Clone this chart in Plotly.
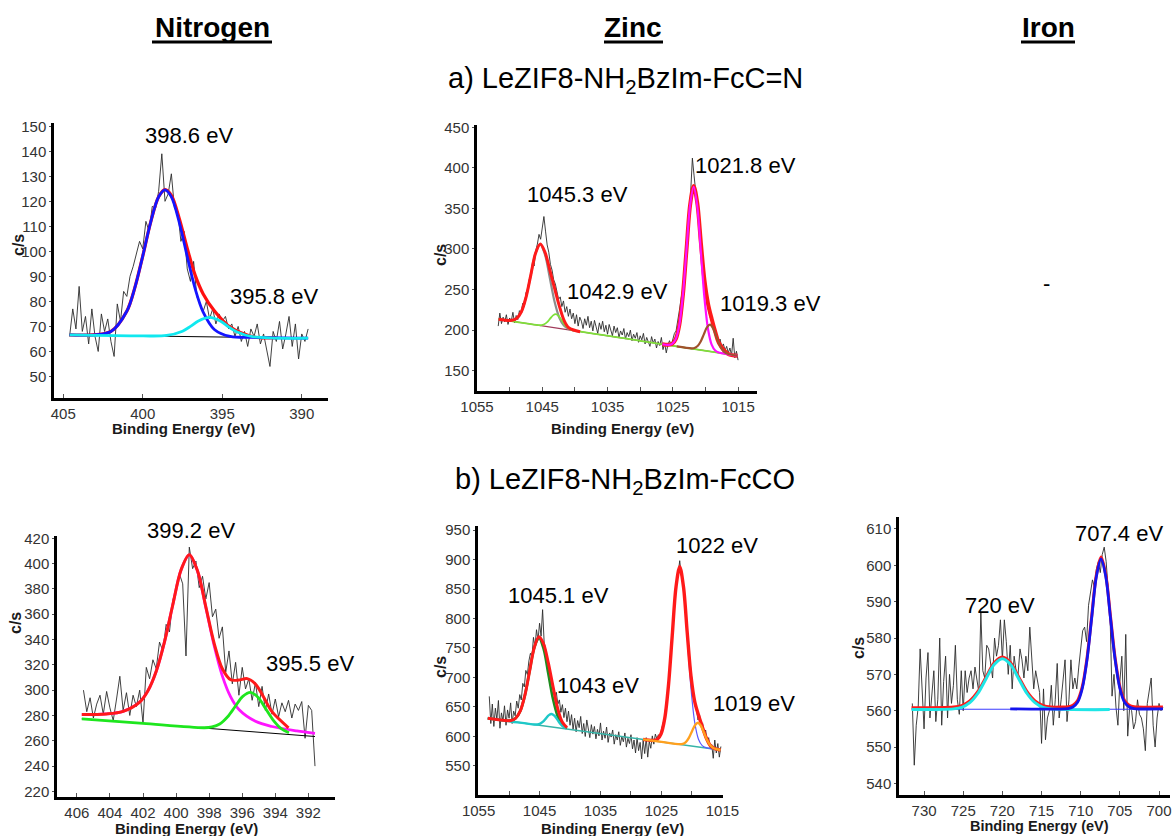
import numpy as np
import plotly.graph_objects as go

W, H = 1173, 836
FONT = "Liberation Sans, Arial, sans-serif"

# ---------------- a) N 1s ----------------
n_a_start, n_a_step = 404.6, 0.2
n_a_counts = [66, 77, 69, 86, 68, 74, 63, 77, 66, 60, 75, 68, 73, 64, 58, 79, 72, 84, 82, 90,
              94, 99, 104, 101, 112, 108, 118, 117, 124, 139, 120, 123, 131, 117, 116, 104, 108, 93, 88, 96,
              82, 79, 76, 80, 73, 77, 71, 75, 72, 74, 69, 71, 66, 70, 64, 68, 62, 69, 66, 71,
              63, 67, 60, 54, 68, 64, 72, 61, 67, 74, 62, 71, 57, 67, 64, 69]
n_a_base_x = [404.6, 389.6]
n_a_base_y = [66.6, 65.3]
n_a_p1_x = [404.6, 402.0, 401.0, 400.5, 400.0, 399.5, 399.0, 398.6, 398.2, 397.7, 397.2, 396.7, 396.2, 395.5, 394.5, 393.0, 389.6]
n_a_p1_y = [66.6, 68.0, 76.1, 85.4, 98.1, 111.7, 121.8, 124.6, 121.8, 111.5, 97.9, 85.0, 75.7, 68.8, 66.0, 65.6, 65.3]
n_a_p2_x = [404.6, 400.0, 398.5, 397.5, 397.0, 396.5, 395.8, 395.1, 394.6, 394.1, 393.1, 389.6]
n_a_p2_y = [66.6, 66.2, 66.4, 68.1, 70.0, 72.2, 73.6, 72.1, 69.8, 67.9, 65.9, 65.3]
n_a_env_x = [404.6, 402.0, 401.0, 400.5, 400.0, 399.5, 399.0, 398.6, 398.2, 397.7, 397.2, 396.7, 396.2, 395.5, 394.5, 393.0, 391.6]
n_a_env_y = [66.6, 68.0, 76.1, 85.4, 98.1, 111.7, 121.8, 124.7, 122.4, 113.1, 101.2, 90.4, 83.0, 76.3, 69.7, 65.8, 65.5]

# ---------------- a) Zn 2p ----------------
zn_a_start, zn_a_step = 1051.75, 0.25
zn_a_counts = [205, 221, 208, 216, 210, 219, 207, 215, 211, 222, 209, 218, 213, 224, 221, 233,
               229, 246, 250, 262, 268, 283, 279, 298, 306, 318, 312, 328, 340, 322, 305, 296,
               281, 274, 262, 257, 246, 238, 241, 229, 236, 222, 229, 217, 226, 214, 221, 208,
               219, 205, 216, 211, 202, 214, 206, 217, 203, 211, 199, 212, 204, 196, 209, 201,
               211, 198, 206, 195, 207, 200, 193, 205, 197, 203, 191, 199, 194, 202, 189, 197,
               192, 200, 187, 195, 190, 197, 185, 193, 188, 196, 183, 191, 186, 180, 192, 184,
               189, 178, 186, 181, 191, 176, 184, 172, 182, 187, 181, 190, 196, 199, 215, 224,
               238, 250, 271, 289, 316, 338, 372, 412, 391, 372, 351, 332, 306, 284, 262, 246,
               232, 223, 215, 211, 203, 197, 192, 186, 189, 178, 183, 175, 180, 172, 178, 169,
               190, 166, 174, 163]
zn_a_base_x = [1051.7, 1015.1]
zn_a_base_y = [213.5, 168.5]
zn_a_p1_x = [1051.7, 1049.65, 1048.93, 1048.2, 1047.48, 1046.75, 1046.03, 1045.3, 1044.58, 1043.85, 1043.13, 1042.4, 1041.68, 1040.95, 1039.2]
zn_a_p1_y = [213.5, 212.1, 214.5, 222.7, 240.8, 268.1, 294.8, 305.6, 293.0, 264.5, 235.5, 215.6, 205.6, 201.4, 198.1]
zn_a_p2_x = [1051.7, 1048.6, 1045.6, 1045.15, 1044.7, 1044.25, 1043.8, 1043.35, 1042.9, 1042.45, 1042.0, 1041.55, 1041.1, 1040.65, 1040.2, 1030.0, 1015.1]
zn_a_p2_y = [213.5, 209.7, 206.2, 206.1, 207.2, 209.8, 214.1, 218.2, 219.7, 217.1, 211.9, 206.5, 202.8, 200.6, 199.6, 186.8, 168.5]
zn_a_env1_x = [1051.7, 1049.65, 1048.93, 1048.2, 1047.48, 1046.75, 1046.03, 1045.3, 1044.58, 1043.85, 1043.13, 1042.4, 1041.68, 1040.95, 1039.2]
zn_a_env1_y = [213.5, 212.1, 214.5, 222.7, 240.8, 268.1, 294.8, 306.1, 296.0, 274.2, 252.0, 230.2, 212.4, 203.0, 198.1]
zn_a_p3_x = [1026.6, 1025.65, 1025.1, 1024.55, 1024.0, 1023.45, 1022.9, 1022.35, 1021.8, 1021.25, 1020.7, 1020.15, 1019.6, 1019.05, 1018.5, 1017.95, 1016.5, 1015.1]
zn_a_p3_y = [182.6, 181.9, 183.0, 188.9, 206.5, 243.7, 299.4, 353.9, 376.7, 352.6, 296.7, 239.6, 201.1, 182.2, 174.9, 172.4, 170.2, 168.5]
zn_a_p4_x = [1024.4, 1022.15, 1021.675, 1021.2, 1020.725, 1020.25, 1019.775, 1019.3, 1018.825, 1018.35, 1017.875, 1017.4, 1016.925, 1016.45, 1015.1]
zn_a_p4_y = [179.9, 177.6, 178.0, 180.5, 186.1, 194.8, 203.3, 206.7, 202.2, 192.5, 182.6, 175.8, 172.1, 170.6, 168.5]
zn_a_env2_x = [1026.6, 1025.65, 1025.1, 1024.55, 1024.0, 1023.45, 1022.9, 1022.35, 1021.8, 1021.25, 1020.7, 1020.15, 1019.6, 1019.05, 1018.5, 1017.95, 1016.5, 1015.1]
zn_a_env2_y = [182.6, 181.9, 183.0, 188.9, 206.5, 243.7, 299.4, 354.1, 377.7, 356.6, 307.8, 261.7, 232.5, 214.1, 198.0, 184.4, 170.6, 168.5]

# ---------------- b) N 1s ----------------
n_b_start, n_b_step = 405.6, 0.2
n_b_counts = [300, 283, 294, 278, 289, 296, 281, 299, 286, 276, 293, 311, 284, 298, 280, 296, 287, 300, 274, 318,
              309, 324, 317, 338, 331, 352, 346, 371, 379, 392, 384, 327, 413, 396, 402, 381, 390, 372, 385, 358,
              364, 341, 350, 314, 331, 305, 322, 296, 318, 301, 309, 292, 306, 287, 303, 284, 297, 281, 293, 279,
              290, 283, 292, 278, 289, 284, 291, 262, 288, 284, 240]
n_b_base_x = [405.7, 391.6]
n_b_base_y = [277.4, 263.4]
n_b_p1_x = [405.7, 404.2, 403.2, 402.2, 401.7, 401.2, 400.7, 400.2, 399.7, 399.2, 398.7, 398.2, 397.7, 397.2, 396.7, 396.2, 395.2, 394.2, 392.7, 391.6]
n_b_p1_y = [280.7, 281.2, 283.3, 290.6, 299.6, 315.0, 338.2, 367.3, 395.0, 406.9, 394.0, 365.3, 335.3, 311.1, 294.7, 284.7, 275.4, 271.3, 267.8, 265.8]
n_b_p2_x = [405.7, 402.0, 398.29, 397.825, 397.36, 396.895, 396.43, 395.965, 395.5, 395.035, 394.57, 394.105, 393.64, 393.175]
n_b_p2_y = [277.4, 273.7, 270.3, 271.0, 273.3, 278.8, 287.0, 295.1, 298.3, 294.2, 285.1, 276.0, 269.6, 266.4]
n_b_env_x = [405.7, 404.2, 403.2, 402.2, 401.7, 401.2, 400.7, 400.2, 399.7, 399.2, 398.7, 398.2, 397.7, 397.2, 396.7, 396.2, 395.7, 395.2, 394.7, 394.2, 393.2]
n_b_env_y = [280.7, 281.2, 283.3, 290.6, 299.6, 315.0, 338.2, 367.3, 395.0, 407.0, 394.1, 365.8, 337.2, 316.9, 308.2, 308.0, 309.1, 304.8, 294.4, 283.0, 270.3]

# ---------------- b) Zn 2p ----------------
zn_b_start, zn_b_step = 1053.25, 0.25
zn_b_counts = [668, 622,
               655, 617, 648, 629, 661, 614, 640, 626, 652, 619, 645, 631, 657, 622, 643, 635,
               660, 648, 671, 662, 690, 684, 712, 705, 728, 741, 735, 768, 752, 781, 763, 792,
               770, 815, 760, 748, 729, 715, 703, 690, 681, 668, 675, 655, 662, 641, 654, 632,
               648, 625, 643, 619, 637, 612, 631, 608, 627, 615, 634, 605, 622, 600, 628, 611,
               598, 620, 604, 617, 596, 612, 601, 623, 594, 609, 597, 616, 590, 606, 599, 611,
               587, 603, 594, 608, 585, 600, 591, 606, 582, 597, 588, 603, 579, 594, 572, 598,
               576, 590, 562, 594, 571, 598, 565, 592, 580, 601, 587, 604, 596, 603, 598, 612,
               621, 632, 655, 672, 703, 745, 772, 808, 838, 861, 882, 898, 873, 865, 832, 808,
               771, 745, 712, 688, 671, 652, 645, 628, 637, 619, 623, 604, 611, 592, 598, 579,
               586, 563, 594, 572,
               588, 565, 583]
zn_b_base_x = [1053.5, 1015.3]
zn_b_base_y = [630.9, 577.1]
zn_b_p1_x = [1053.5, 1049.69, 1048.925, 1048.16, 1047.395, 1046.63, 1045.865, 1045.1, 1044.335, 1043.57, 1042.805, 1042.04, 1041.275, 1040.51]
zn_b_p1_y = [630.9, 627.1, 630.9, 643.4, 670.4, 711.0, 750.7, 767.1, 748.6, 706.7, 663.9, 634.8, 620.2, 614.2]
zn_b_p2_x = [1053.5, 1049.7, 1045.85, 1045.375, 1044.9, 1044.425, 1043.95, 1043.475, 1043.0, 1042.525, 1042.05, 1041.575, 1041.1, 1040.625]
zn_b_p2_y = [630.9, 625.5, 620.3, 620.4, 621.8, 625.2, 630.7, 636.2, 638.1, 634.8, 628.1, 621.2, 616.4, 613.8]
zn_b_env1_x = [1053.5, 1049.69, 1048.925, 1048.16, 1047.395, 1046.63, 1045.865, 1045.1, 1044.335, 1043.57, 1042.805, 1042.04, 1041.275, 1040.51]
zn_b_env1_y = [630.9, 627.1, 630.9, 643.4, 670.4, 711.0, 750.9, 769.0, 756.8, 725.1, 685.4, 648.0, 624.4, 614.9]
zn_b_p3_x = [1028.0, 1026.305, 1025.69, 1025.075, 1024.46, 1023.845, 1023.23, 1022.615, 1022.0, 1021.385, 1020.77, 1020.155, 1019.54, 1018.925, 1018.31, 1017.695, 1015.3]
zn_b_p3_y = [595.0, 593.3, 595.0, 604.1, 630.7, 686.8, 770.9, 853.0, 887.5, 851.3, 767.4, 681.6, 623.8, 595.4, 584.6, 581.2, 577.1]
zn_b_p4_x = [1028.0, 1025.0, 1022.0, 1021.5, 1021.0, 1020.5, 1020.0, 1019.5, 1019.0, 1018.5, 1018.0, 1017.5, 1017.0, 1016.5, 1016.0, 1015.3]
zn_b_p4_y = [595.0, 590.8, 587.0, 587.6, 590.6, 597.7, 608.6, 619.2, 623.3, 617.8, 605.8, 593.5, 585.0, 580.6, 578.6, 577.1]
zn_b_env2_x = [1028.0, 1026.305, 1025.69, 1025.075, 1024.46, 1023.845, 1023.23, 1022.615, 1022.0, 1021.385, 1020.77, 1020.155, 1019.54, 1018.925, 1018.31, 1017.695, 1017.0, 1016.3, 1015.3]
zn_b_env2_y = [595.0, 593.3, 595.0, 604.1, 630.7, 686.8, 770.9, 853.1, 888.0, 853.7, 776.0, 702.6, 659.2, 636.3, 616.9, 598.7, 585.0, 579.6, 577.1]

# ---------------- b) Fe 2p ----------------
fe_b_start, fe_b_step = 731.5, 0.25
fe_b_counts = [562, 545,
               556, 561, 577, 566, 555, 569, 576, 558, 566, 571, 557, 563, 580, 556, 568, 575,
               558, 570, 562, 567, 578, 563, 559, 571, 560, 571, 565, 569, 571, 566, 572, 568,
               565, 587, 571, 569, 578, 577, 573, 569, 580, 575, 578, 585, 574, 585, 579, 570,
               578, 566, 575, 571, 570, 577, 574, 569, 575, 571, 583, 573, 566, 571, 568, 565,
               551, 566, 552, 558, 560, 567, 556, 563, 573, 558, 563, 568, 574, 557, 563, 574,
               566, 569, 566, 572, 578, 582, 583, 579, 589, 592, 596, 594, 599, 601, 598, 603,
               605, 601, 592, 586, 564, 570, 561, 556, 568, 575, 560, 581, 553, 561, 560, 555,
               557, 563, 559, 558, 555, 549, 562, 566, 569, 556, 550, 558,
               562, 560, 561]
fe_b_base_x = [731.6, 699.5]
fe_b_base_y = [560.4, 560.4]
fe_b_p1_x = [731.6, 726.24, 725.2, 724.16, 723.12, 722.08, 721.04, 720.0, 718.96, 717.92, 716.88, 715.84, 714.8, 713.76, 706.3]
fe_b_p1_y = [560.3, 560.5, 560.9, 562.2, 564.8, 568.8, 572.7, 574.3, 572.7, 568.8, 564.8, 562.2, 560.9, 560.5, 560.3]
fe_b_p2_x = [719.0, 711.6, 711.0, 710.4, 709.8, 709.2, 708.6, 708.0, 707.4, 706.8, 706.2, 705.6, 705.0, 704.4, 703.8, 703.2, 699.5]
fe_b_p2_y = [560.5, 560.6, 561.0, 562.3, 566.1, 573.9, 585.5, 596.9, 601.8, 596.9, 585.5, 573.9, 566.1, 562.3, 561.0, 560.6, 560.5]
fe_b_env_x = [731.6, 726.24, 725.2, 724.16, 723.12, 722.08, 721.04, 720.0, 718.96, 717.92, 716.88, 715.84, 714.8, 713.76, 712.5, 711.6, 711.0, 710.4, 709.8, 709.2, 708.6, 708.0, 707.4, 706.8, 706.2, 705.6, 705.0, 704.4, 703.8, 703.2, 699.5]
fe_b_env_y = [560.8, 561.0, 561.4, 562.7, 565.3, 569.3, 573.2, 574.8, 573.2, 569.3, 565.3, 562.7, 561.4, 561.0, 561.0, 561.1, 561.5, 562.8, 566.6, 574.4, 586.0, 597.4, 602.3, 597.4, 586.0, 574.4, 566.6, 562.8, 561.5, 561.1, 561.0]


def energy_grid(start, step, counts):
    return np.round(start - step * np.arange(len(counts)), 3)


# panel geometry in pixels: (left, right, top, bottom)
panels = {
    1: dict(box=(54, 328, 123, 398), xr=[405.58, 388.35], yr=[41.4, 151.3],
            xt=[405, 400, 395, 390], xminor=None, yt=list(range(50, 151, 10))),
    2: dict(box=(477, 757, 125, 391), xr=[1055.0, 1012.1], yr=[125, 452.8],
            xt=[1055, 1045, 1035, 1025, 1015], xminor=5, yt=list(range(150, 451, 50))),
    3: dict(box=(57, 335, 536, 797), xr=[407.2, 390.39], yr=[215.6, 421.8],
            xt=list(range(406, 391, -2)), xminor=None, yt=list(range(220, 421, 20))),
    4: dict(box=(478, 723, 526, 795), xr=[1055.1, 1014.9], yr=[500.8, 956.8],
            xt=[1055, 1045, 1035, 1025, 1015], xminor=5, yt=list(range(550, 951, 50))),
    5: dict(box=(899, 1170, 517, 795), xr=[733.2, 698.6], yr=[536.8, 613.3],
            xt=[730, 725, 720, 715, 710, 705, 700], xminor=None, yt=list(range(540, 611, 10))),
}

fig = go.Figure()


def add(n, x, y, color, width, spline=True):
    fig.add_trace(go.Scatter(
        x=x, y=y, mode="lines",
        line=dict(color=color, width=width, shape="spline" if spline else "linear", smoothing=0.9),
        xaxis="x" if n == 1 else f"x{n}", yaxis="y" if n == 1 else f"y{n}",
        hoverinfo="skip", showlegend=False))


RAW = "#2b2b2b"

# N 1s (a)
add(1, energy_grid(n_a_start, n_a_step, n_a_counts), n_a_counts, RAW, 0.9, spline=False)
add(1, n_a_base_x, n_a_base_y, "#000000", 1.0, spline=False)
add(1, n_a_env_x, n_a_env_y, "#ff1010", 3.2)
add(1, n_a_p1_x, n_a_p1_y, "#1414ff", 2.8)
add(1, n_a_p2_x, n_a_p2_y, "#10e8ef", 2.8)

# Zn 2p (a)
add(2, energy_grid(zn_a_start, zn_a_step, zn_a_counts), zn_a_counts, RAW, 0.9, spline=False)
add(2, zn_a_base_x, zn_a_base_y, "#a03a5a", 1.2, spline=False)
add(2, zn_a_p1_x, zn_a_p1_y, "#8c8c8c", 2.2)
add(2, zn_a_p2_x, zn_a_p2_y, "#7ee03a", 1.8)
add(2, zn_a_env1_x, zn_a_env1_y, "#ff1a1a", 3.0)
add(2, zn_a_env2_x, zn_a_env2_y, "#ff1a1a", 4.0)
add(2, zn_a_p3_x, zn_a_p3_y, "#ff10ff", 2.2)
add(2, zn_a_p4_x, zn_a_p4_y, "#a0522d", 2.2)

# N 1s (b)
add(3, energy_grid(n_b_start, n_b_step, n_b_counts), n_b_counts, RAW, 0.9, spline=False)
add(3, n_b_base_x, n_b_base_y, "#000000", 1.0, spline=False)
add(3, n_b_p1_x, n_b_p1_y, "#ff14ff", 2.8)
add(3, n_b_p2_x, n_b_p2_y, "#1ee61e", 2.8)
add(3, n_b_env_x, n_b_env_y, "#ff1a1a", 3.0)

# Zn 2p (b)
add(4, energy_grid(zn_b_start, zn_b_step, zn_b_counts), zn_b_counts, RAW, 0.9, spline=False)
add(4, zn_b_base_x, zn_b_base_y, "#36b4a8", 1.4, spline=False)
add(4, zn_b_p1_x, zn_b_p1_y, "#1e8c1e", 2.6)
add(4, zn_b_p2_x, zn_b_p2_y, "#1ec8c8", 2.4)
add(4, zn_b_env1_x, zn_b_env1_y, "#ff1a1a", 3.0)
add(4, zn_b_p3_x, zn_b_p3_y, "#5a5aff", 1.2)
add(4, zn_b_env2_x, zn_b_env2_y, "#ff1a1a", 3.4)
add(4, zn_b_p4_x, zn_b_p4_y, "#ffa01e", 2.4)

# Fe 2p (b)
add(5, energy_grid(fe_b_start, fe_b_step, fe_b_counts), fe_b_counts, RAW, 0.9, spline=False)
add(5, fe_b_base_x, fe_b_base_y, "#3a3aff", 1.0, spline=False)
add(5, fe_b_env_x, fe_b_env_y, "#ff1a1a", 3.0)
add(5, fe_b_p1_x, fe_b_p1_y, "#1ee6e6", 3.0)
add(5, fe_b_p2_x, fe_b_p2_y, "#1414ee", 2.8)

tickfont = dict(family=FONT, size=15, color="#333333")
layout = dict(
    width=W, height=H, margin=dict(l=0, r=0, t=0, b=0, autoexpand=False),
    paper_bgcolor="white", plot_bgcolor="white", showlegend=False,
)
for n, p in panels.items():
    l, r, t, b = p["box"]
    xa = dict(domain=[l / W, r / W], range=p["xr"], anchor="y" if n == 1 else f"y{n}",
              showline=True, linecolor="black", linewidth=2.5, showgrid=False, zeroline=False,
              ticks="inside", ticklen=4, tickcolor="#555555", tickwidth=1, automargin=False,
              tickvals=p["xt"], ticktext=[str(v) for v in p["xt"]], tickfont=tickfont)
    if p["xminor"]:
        xa["minor"] = dict(dtick=p["xminor"], ticks="inside", ticklen=4, tickcolor="#555555", showgrid=False)
    ya = dict(domain=[1 - b / H, 1 - t / H], range=p["yr"], anchor="x" if n == 1 else f"x{n}",
              showline=True, linecolor="black", linewidth=2.5, showgrid=False, zeroline=False,
              ticks="outside", ticklen=2, tickcolor="#555555", automargin=False,
              tickvals=p["yt"], ticktext=[str(v) for v in p["yt"]], tickfont=tickfont)
    layout["xaxis" if n == 1 else f"xaxis{n}"] = xa
    layout["yaxis" if n == 1 else f"yaxis{n}"] = ya
fig.update_layout(**layout)


def text(s, x, y, size=22, bold=False, angle=0, color="#111111"):
    fig.add_annotation(text=f"<b>{s}</b>" if bold else s, x=x / W, y=1 - y / H,
                       xref="paper", yref="paper", xanchor="center", yanchor="middle",
                       showarrow=False, textangle=angle,
                       font=dict(family=FONT, size=size, color=color))


# column headers with underline
for label, cx, x0, x1 in [("Nitrogen", 212, 152, 272), ("Zinc", 633, 604, 663), ("Iron", 1048, 1021, 1075)]:
    text(label, cx, 27, size=28, bold=True, color="black")
    fig.add_shape(type="line", xref="paper", yref="paper", x0=x0 / W, x1=x1 / W,
                  y0=1 - 42 / H, y1=1 - 42 / H, line=dict(color="black", width=3))

text("a) LeZIF8-NH<sub>2</sub>BzIm-FcC=N", 625, 80, size=29, color="black")
text("b) LeZIF8-NH<sub>2</sub>BzIm-FcCO", 625, 481, size=29, color="black")
text("-", 1046, 283, size=22, color="black")

# peak labels
for s, x, y in [("398.6 eV", 189, 136), ("395.8 eV", 274, 296),
                ("1045.3 eV", 577, 195), ("1042.9 eV", 617, 291), ("1021.8 eV", 745, 165), ("1019.3 eV", 770, 303),
                ("399.2 eV", 191, 530), ("395.5 eV", 310, 663),
                ("1045.1 eV", 558, 595), ("1043 eV", 598, 685), ("1022 eV", 717, 545), ("1019 eV", 754, 703),
                ("720 eV", 1000, 605), ("707.4 eV", 1119, 533)]:
    text(s, x, y, size=22, color="black")

# axis titles
for x, y, fs in [(183, 428, 15), (622, 428, 15), (187, 828, 15), (612, 828, 15), (1039, 826, 14.5)]:
    text("Binding Energy (eV)", x, y, size=fs, bold=True, color="#1a1a1a")
for x, y in [(18, 245), (440, 255), (15, 623), (440, 667), (858, 648)]:
    text("c/s", x, y, size=16, bold=True, angle=-90, color="#1a1a1a")

fig.write_html("out.html")
